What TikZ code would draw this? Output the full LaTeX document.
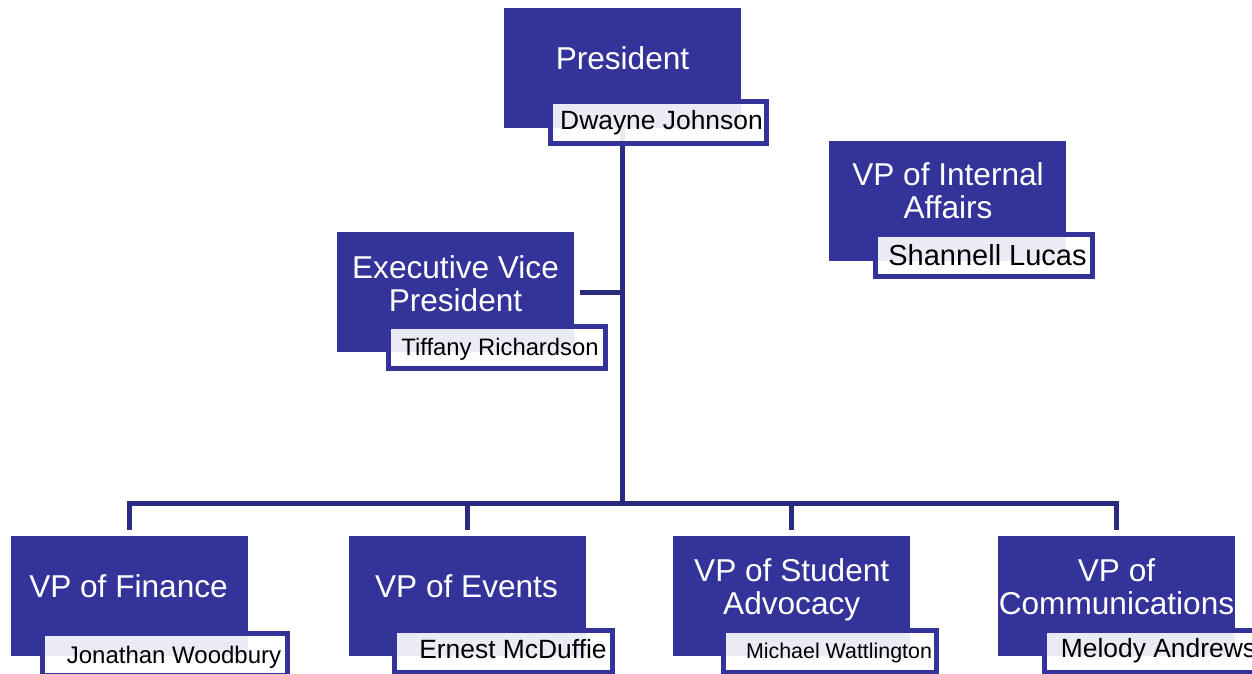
\documentclass[tikz,border=0pt]{standalone}
\usepackage{fontspec}
\setmainfont{Liberation Sans}
\usepackage{xcolor}
\usepackage{tikz}
\usetikzlibrary{backgrounds}

\definecolor{boxblue}{RGB}{52,51,153}
\definecolor{lineblue}{RGB}{42,42,126}

\tikzset{
    rolebox/.style={fill=boxblue, inner sep=0pt, minimum width=118.5pt, minimum height=60pt},
    namebox/.style={draw=boxblue, line width=2.5pt, fill=white, fill opacity=0.9, inner sep=0pt, minimum height=21pt},
    roletext/.style={text=white, font=\fontsize{15.8}{16.5}\selectfont, align=center, anchor=base, inner sep=0pt},
    nametext/.style={text=black, anchor=base, inner sep=0pt},
    conn/.style={draw=lineblue, line width=2.5pt}
}

\begin{document}
\begin{tikzpicture}[x=0.5pt, y=-0.5pt]
    \useasboundingbox (0,0) rectangle (1252,674);

    \node[rolebox] (pres) at (622.5,68) {};
    \node[namebox, minimum width=108pt] (presN) at (658.5,122.5) {};
    \node[roletext] (presT) at (622.5,70) {President};
    \node[nametext, font=\fontsize{13.2}{14}\selectfont] (presP) at (661.5,130) {Dwayne Johnson};

    \node[rolebox] (evp) at (455,292) {};
    \node[namebox, minimum width=108.5pt] (evpN) at (497,347) {};
    \node[roletext] (evpT) at (455.5,311) {Executive Vice\\President};
    \node[nametext, font=\fontsize{11.9}{13}\selectfont] (evpP) at (500,355) {Tiffany Richardson};

    \node[rolebox] (via) at (947.5,200.5) {};
    \node[namebox, minimum width=108.5pt] (viaN) at (984,255.5) {};
    \node[roletext] (viaT) at (948,218) {VP of Internal\\Affairs};
    \node[nametext, font=\fontsize{14.5}{15}\selectfont] (viaP) at (987.5,265) {Shannell Lucas};

    \node[rolebox] (fin) at (129,596) {};
    \node[namebox, minimum width=122.5pt] (finN) at (165,654) {};
    \node[roletext] (finT) at (128.5,597) {VP of Finance};
    \node[nametext, font=\fontsize{12}{13}\selectfont] (finP) at (174,663) {Jonathan Woodbury};

    \node[rolebox] (evt) at (467.5,596) {};
    \node[namebox, minimum width=109pt] (evtN) at (503.5,651.5) {};
    \node[roletext] (evtT) at (466.5,597) {VP of Events};
    \node[nametext, font=\fontsize{13.2}{14}\selectfont] (evtP) at (513,658) {Ernest McDuffie};

    \node[rolebox] (stu) at (791.5,596) {};
    \node[namebox, minimum width=106.5pt] (stuN) at (830,651.5) {};
    \node[roletext] (stuT) at (791.7,614) {VP of Student\\Advocacy};
    \node[nametext, font=\fontsize{10.7}{12}\selectfont] (stuP) at (839,658) {Michael Wattlington};

    \node[rolebox] (com) at (1116.5,596) {};
    \node[namebox, minimum width=105pt] (comN) at (1149.5,651.5) {};
    \node[roletext] (comT) at (1116.5,614) {VP of\\Communications};
    \node[nametext, font=\fontsize{13.2}{14}\selectfont] (comP) at (1158.5,657) {Melody Andrews};

    \coordinate (bus) at (622.5,503.5);

    \begin{pgfonlayer}{background}
        \draw[conn] (pres.south) -- (bus);
        \draw[conn] ([xshift=3pt]evp.east) -- (evp.east -| pres.south);
        \draw[conn] ([yshift=3pt]fin.north) |- (bus) -| ([yshift=3pt]com.north);
        \draw[conn] ([yshift=3pt]evt.north) -- (evt.north |- bus);
        \draw[conn] ([yshift=3pt]stu.north) -- (stu.north |- bus);
    \end{pgfonlayer}
\end{tikzpicture}
\end{document}
